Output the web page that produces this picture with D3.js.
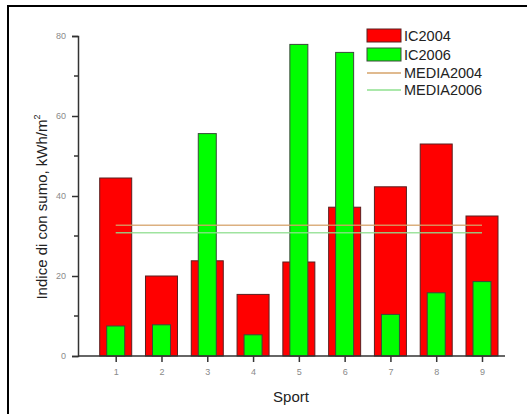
<!DOCTYPE html>
<html>
<head>
<meta charset="utf-8">
<script src="https://cdn.jsdelivr.net/npm/d3@7"></script>
<style>
  body { margin: 0; background: #fff; }
  svg { display: block; font-family: Arial, "Liberation Sans", sans-serif; }
</style>
</head>
<body>
<div id="chart"></div>
<script>
// data
const sports = [1, 2, 3, 4, 5, 6, 7, 8, 9]
const ic2004 = [44.5, 20, 23.8, 15.4, 23.5, 37.2, 42.3, 53, 35]
const ic2006 = [7.5, 7.8, 55.6, 5.3, 77.9, 75.9, 10.4, 15.8, 18.6]
const media2004 = 32.7
const media2006 = 30.8
const yTicks = [0, 20, 40, 60, 80]
const yMinor = [10, 30, 50, 70]

const width = 527
const height = 414

const svg = d3.select('#chart')
    .append('svg')
    .attr('width', width)
    .attr('height', height)

// frame (only top and left edges show)
svg.append('line')
    .attr('x1', 8).attr('x2', width)
    .attr('y1', 6).attr('y2', 6)
    .attr('stroke', '#000').attr('stroke-width', 2)
svg.append('line')
    .attr('x1', 8).attr('x2', 8)
    .attr('y1', 5).attr('y2', height)
    .attr('stroke', '#000').attr('stroke-width', 2)

// scales
const xScale = d3.scaleLinear()
    .domain([1, 9])
    .range([115.7, 482])

const yScale = d3.scaleLinear()
    .domain([0, 80])
    .range([356, 36])

const redW = 32
const greenW = 18

// red bars (IC2004)
svg.selectAll('.bar2004')
    .data(sports)
    .enter()
    .append('rect')
        .attr('class', 'bar2004')
        .attr('x', (d, i) => xScale(d) - redW / 2)
        .attr('y', (d, i) => yScale(ic2004[i]))
        .attr('width', redW)
        .attr('height', (d, i) => yScale(0) - yScale(ic2004[i]))
        .attr('fill', '#ff0000')
        .attr('stroke', '#5a2020')
        .attr('stroke-width', 1)

// green bars (IC2006)
svg.selectAll('.bar2006')
    .data(sports)
    .enter()
    .append('rect')
        .attr('class', 'bar2006')
        .attr('x', (d, i) => xScale(d) - greenW / 2)
        .attr('y', (d, i) => yScale(ic2006[i]))
        .attr('width', greenW)
        .attr('height', (d, i) => yScale(0) - yScale(ic2006[i]))
        .attr('fill', '#00ff00')
        .attr('stroke', '#3a4a3a')
        .attr('stroke-width', 1)

// mean lines
svg.append('line')
    .attr('x1', xScale(1)).attr('x2', xScale(9))
    .attr('y1', yScale(media2004)).attr('y2', yScale(media2004))
    .attr('stroke', '#d6a36a').attr('stroke-width', 1.5).attr('opacity', 0.85)
svg.append('line')
    .attr('x1', xScale(1)).attr('x2', xScale(9))
    .attr('y1', yScale(media2006)).attr('y2', yScale(media2006))
    .attr('stroke', '#8fe08f').attr('stroke-width', 1.5).attr('opacity', 0.85)

// y axis
const yAxis = svg.append('g')
    .attr('transform', 'translate(78, 0)')
    .call(d3.axisLeft(yScale).tickValues(yTicks).tickSize(6).tickPadding(6))
yAxis.select('.domain').attr('stroke', '#333').attr('stroke-width', 1.5)
yAxis.selectAll('.tick line').attr('stroke', '#333').attr('stroke-width', 1.5)
yAxis.selectAll('.tick text')
    .attr('fill', '#8a8a8a')
    .style('font-size', '9px')

svg.append('g')
    .selectAll('line')
    .data(yMinor)
    .enter()
    .append('line')
        .attr('x1', 74).attr('x2', 78)
        .attr('y1', d => yScale(d)).attr('y2', d => yScale(d))
        .attr('stroke', '#333').attr('stroke-width', 1.5)

// x axis
const xAxis = svg.append('g')
    .attr('transform', `translate(0, ${yScale(0)})`)
    .call(d3.axisBottom(xScale).tickValues(sports).tickSize(6).tickPadding(7).tickSizeOuter(0))
xAxis.select('.domain')
    .attr('d', `M78,0H505`)
    .attr('stroke', '#333').attr('stroke-width', 1.5)
xAxis.selectAll('.tick line').attr('stroke', '#333').attr('stroke-width', 1.5)
xAxis.selectAll('.tick text')
    .attr('fill', '#8a8a8a')
    .style('font-size', '9px')

// axis titles
svg.append('text')
    .attr('x', 291)
    .attr('y', 402)
    .attr('text-anchor', 'middle')
    .style('font-size', '15px')
    .attr('fill', '#222')
    .text('Sport')

const yLabel = svg.append('text')
    .attr('transform', 'translate(47, 207) rotate(-90)')
    .attr('text-anchor', 'middle')
    .style('font-size', '15px')
    .attr('fill', '#222')
yLabel.append('tspan').text('Indice di con sumo, kWh/m')
yLabel.append('tspan')
    .attr('dy', -7)
    .style('font-size', '9px')
    .text('2')

// legend
const legend = svg.append('g')
legend.append('rect')
    .attr('x', 367).attr('y', 29).attr('width', 34).attr('height', 13)
    .attr('fill', '#ff0000').attr('stroke', '#5a2020')
legend.append('rect')
    .attr('x', 367).attr('y', 48).attr('width', 34).attr('height', 13)
    .attr('fill', '#00ff00').attr('stroke', '#3a4a3a')
legend.append('line')
    .attr('x1', 367).attr('x2', 401).attr('y1', 73).attr('y2', 73)
    .attr('stroke', '#d6a36a').attr('stroke-width', 1.5)
legend.append('line')
    .attr('x1', 367).attr('x2', 401).attr('y1', 90).attr('y2', 90)
    .attr('stroke', '#8fe08f').attr('stroke-width', 1.5)

const legendLabels = ['IC2004', 'IC2006', 'MEDIA2004', 'MEDIA2006']
const legendY = [35.5, 54.5, 73, 90]
legend.selectAll('.legtext')
    .data(legendLabels)
    .enter()
    .append('text')
        .attr('class', 'legtext')
        .attr('x', 404)
        .attr('y', (d, i) => legendY[i])
        .attr('dy', '0.36em')
        .style('font-size', '14.5px')
        .attr('fill', '#222')
        .text(d => d)
</script>
</body>
</html>
